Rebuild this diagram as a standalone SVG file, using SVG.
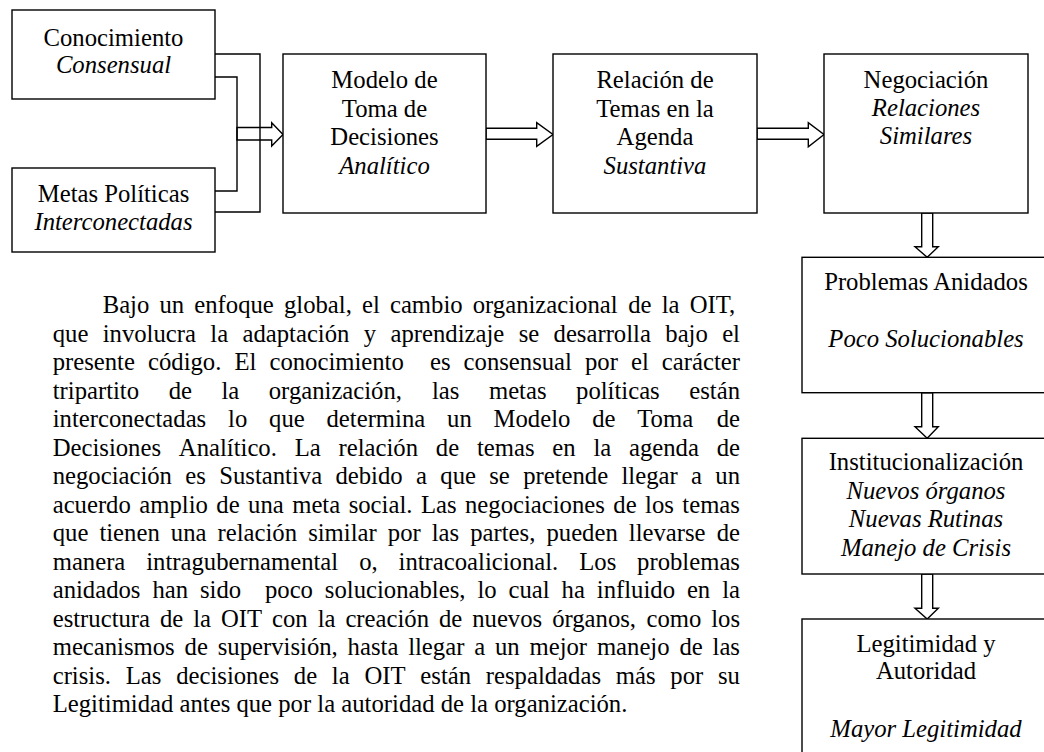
<svg xmlns="http://www.w3.org/2000/svg" width="1044" height="752" viewBox="0 0 1044 752">
<style>
.t{font-family:"Liberation Serif","Times New Roman",serif;font-size:24.7px;fill:#000}
.m{text-anchor:middle}
.i{font-style:italic}
.box{fill:#fff;stroke:#000;stroke-width:1.4}
.ln{fill:none;stroke:#000;stroke-width:1.4}
.ha{fill:#fff;stroke:#000;stroke-width:1.4;stroke-linejoin:miter}
</style>
<rect width="1044" height="752" fill="#fff"/>
<g id="connectors">
<polygon class="ha" points="237,127.5 271.7,127.5 271.7,122.7 283,134.5 271.7,146 271.7,140 237,140"/>
<polyline class="ln" points="215,54 260,54 260,212 215,212"/>
<polyline class="ln" points="215,77 237,77 237,191 215,191"/>
<polygon class="ha" points="486,128.3 536.7,128.3 536.7,122.7 553,134.5 536.7,146.3 536.7,139.3 486,139.3"/>
<polygon class="ha" points="757,128.3 808.3,128.3 808.3,122.7 824,134.5 808.3,146.7 808.3,139.3 757,139.3"/>
<polygon class="ha" points="921.7,213 932.7,213 932.7,246.7 938.3,246.7 927.2,257.3 915,246.7 921.7,246.7"/>
<polygon class="ha" points="921.7,392.7 932.7,392.7 932.7,426.7 938.3,426.7 927.2,438.3 915,426.7 921.7,426.7"/>
<polygon class="ha" points="921.7,574 932.7,574 932.7,608.3 938.3,608.3 927.2,619 915,608.3 921.7,608.3"/>
</g>
<g id="node-conocimiento">
<rect class="box" x="12" y="10" width="203" height="89"/>
<text class="t m" x="113.5" y="45.7">Conocimiento</text>
<text class="t m i" x="113.5" y="72.5">Consensual</text>
</g>
<g id="node-metas">
<rect class="box" x="12" y="168" width="203" height="84"/>
<text class="t m" x="113.5" y="201.7">Metas Políticas</text>
<text class="t m i" x="113.5" y="230">Interconectadas</text>
</g>
<g id="node-modelo">
<rect class="box" x="283" y="54" width="203" height="159"/>
<text class="t m" x="384.5" y="88.3">Modelo de</text>
<text class="t m" x="384.5" y="116.8">Toma de</text>
<text class="t m" x="384.5" y="145.3">Decisiones</text>
<text class="t m i" x="384.5" y="173.8">Analítico</text>
</g>
<g id="node-relacion">
<rect class="box" x="553" y="54" width="204" height="159"/>
<text class="t m" x="655" y="88.3">Relación de</text>
<text class="t m" x="655" y="116.8">Temas en la</text>
<text class="t m" x="655" y="145.3">Agenda</text>
<text class="t m i" x="655" y="173.8">Sustantiva</text>
</g>
<g id="node-negociacion">
<rect class="box" x="824" y="54" width="204" height="159"/>
<text class="t m" x="926" y="88.3">Negociación</text>
<text class="t m i" x="926" y="116.3">Relaciones</text>
<text class="t m i" x="926" y="143.8">Similares</text>
</g>
<g id="node-problemas">
<rect class="box" x="802" y="257.3" width="250" height="135.4"/>
<text class="t m" x="926" y="290">Problemas Anidados</text>
<text class="t m i" x="926" y="347.3">Poco Solucionables</text>
</g>
<g id="node-institucionalizacion">
<rect class="box" x="802" y="438.3" width="250" height="135.7"/>
<text class="t m" x="926" y="470">Institucionalización</text>
<text class="t m i" x="926" y="498.5">Nuevos órganos</text>
<text class="t m i" x="926" y="527">Nuevas Rutinas</text>
<text class="t m i" x="926" y="555.5">Manejo de Crisis</text>
</g>
<g id="node-legitimidad">
<rect class="box" x="802" y="619" width="250" height="160"/>
<text class="t m" x="926" y="651.5">Legitimidad y</text>
<text class="t m" x="926" y="678.5">Autoridad</text>
<text class="t m i" x="926" y="736.7">Mayor Legitimidad</text>
</g>
<g id="paragraph">
<text class="t"><tspan x="102.7" y="313">Bajo</tspan> <tspan x="159.47">un</tspan> <tspan x="194.28">enfoque</tspan> <tspan x="283.95">global,</tspan> <tspan x="361.99">el</tspan> <tspan x="389.93">cambio</tspan> <tspan x="472.76">organizacional</tspan> <tspan x="628.28">de</tspan> <tspan x="661.71">la</tspan> <tspan x="689.65">OIT,</tspan></text>
<text class="t"><tspan x="52.7" y="341.5">que</tspan> <tspan x="102.7">involucra</tspan> <tspan x="210.32">la</tspan> <tspan x="242.48">adaptación</tspan> <tspan x="363.81">y</tspan> <tspan x="390.49">aprendizaje</tspan> <tspan x="518.66">se</tspan> <tspan x="553.57">desarrolla</tspan> <tspan x="665.29">bajo</tspan> <tspan x="722.15">el</tspan></text>
<text class="t"><tspan x="52.7" y="370">presente</tspan> <tspan x="148.03">código.</tspan> <tspan x="234.47">El</tspan> <tspan x="269.46">conocimiento</tspan> <tspan x="430">es</tspan> <tspan x="463.61">consensual</tspan> <tspan x="585.02">por</tspan> <tspan x="630.98">el</tspan> <tspan x="661.84">carácter</tspan></text>
<text class="t"><tspan x="52.7" y="398.5">tripartito</tspan> <tspan x="168.64">de</tspan> <tspan x="221.45">la</tspan> <tspan x="268.77">organización,</tspan> <tspan x="432.01">las</tspan> <tspan x="488.94">metas</tspan> <tspan x="576.06">políticas</tspan> <tspan x="689.26">están</tspan></text>
<text class="t"><tspan x="52.7" y="427">interconectadas</tspan> <tspan x="228.1">lo</tspan> <tspan x="269.09">que</tspan> <tspan x="326.53">determina</tspan> <tspan x="447.08">un</tspan> <tspan x="493.55">Modelo</tspan> <tspan x="592.16">de</tspan> <tspan x="637.25">Toma</tspan> <tspan x="716.65">de</tspan></text>
<text class="t"><tspan x="52.7" y="455.5">Decisiones</tspan> <tspan x="178.84">Analítico.</tspan> <tspan x="294.71">La</tspan> <tspan x="338.53">relación</tspan> <tspan x="435.85">de</tspan> <tspan x="476.93">temas</tspan> <tspan x="552.32">en</tspan> <tspan x="593.4">la</tspan> <tspan x="628.99">agenda</tspan> <tspan x="716.7">de</tspan></text>
<text class="t"><tspan x="52.7" y="484">negociación</tspan> <tspan x="185.36">es</tspan> <tspan x="219.25">Sustantiva</tspan> <tspan x="335.48">debido</tspan> <tspan x="416.02">a</tspan> <tspan x="440.3">que</tspan> <tspan x="489.28">se</tspan> <tspan x="523.17">pretende</tspan> <tspan x="621.52">llegar</tspan> <tspan x="691.07">a</tspan> <tspan x="715.35">un</tspan></text>
<text class="t"><tspan x="52.7" y="512.5">acuerdo</tspan> <tspan x="139.31">amplio</tspan> <tspan x="216.36">de</tspan> <tspan x="248.11">una</tspan> <tspan x="292.21">meta</tspan> <tspan x="348.66">social.</tspan> <tspan x="420.89">Las</tspan> <tspan x="464.99">negociaciones</tspan> <tspan x="613.35">de</tspan> <tspan x="645.1">los</tspan> <tspan x="682.35">temas</tspan></text>
<text class="t"><tspan x="52.7" y="541">que</tspan> <tspan x="99.41">tienen</tspan> <tspan x="170.82">una</tspan> <tspan x="217.53">relación</tspan> <tspan x="308.13">similar</tspan> <tspan x="387.79">por</tspan> <tspan x="431.76">las</tspan> <tspan x="470.24">partes,</tspan> <tspan x="546.44">pueden</tspan> <tspan x="628.81">llevarse</tspan> <tspan x="716.67">de</tspan></text>
<text class="t"><tspan x="52.7" y="569.5">manera</tspan> <tspan x="146.24">intragubernamental</tspan> <tspan x="359.16">o,</tspan> <tspan x="398.54">intracoalicional.</tspan> <tspan x="579.22">Los</tspan> <tspan x="637.12">problemas</tspan></text>
<text class="t"><tspan x="52.7" y="598">anidados</tspan> <tspan x="152.41">han</tspan> <tspan x="199.98">sido</tspan> <tspan x="264.95">poco</tspan> <tspan x="324.87">solucionables,</tspan> <tspan x="477.41">lo</tspan> <tspan x="508.53">cual</tspan> <tspan x="561.58">ha</tspan> <tspan x="596.8">influido</tspan> <tspan x="686.92">en</tspan> <tspan x="722.14">la</tspan></text>
<text class="t"><tspan x="52.7" y="626.5">estructura</tspan> <tspan x="160.01">de</tspan> <tspan x="193.25">la</tspan> <tspan x="221">OIT</tspan> <tspan x="272.07">con</tspan> <tspan x="317.66">la</tspan> <tspan x="345.41">creación</tspan> <tspan x="438.99">de</tspan> <tspan x="472.23">nuevos</tspan> <tspan x="552.13">órganos,</tspan> <tspan x="646.43">como</tspan> <tspan x="711.23">los</tspan></text>
<text class="t"><tspan x="52.7" y="655">mecanismos</tspan> <tspan x="184.62">de</tspan> <tspan x="217.74">supervisión,</tspan> <tspan x="347.61">hasta</tspan> <tspan x="408.17">llegar</tspan> <tspan x="474.21">a</tspan> <tspan x="494.98">un</tspan> <tspan x="529.48">mejor</tspan> <tspan x="596.91">manejo</tspan> <tspan x="679.43">de</tspan> <tspan x="712.55">las</tspan></text>
<text class="t"><tspan x="52.7" y="683.5">crisis.</tspan> <tspan x="125.76">Las</tspan> <tspan x="176.17">decisiones</tspan> <tspan x="293.81">de</tspan> <tspan x="331.87">la</tspan> <tspan x="364.44">OIT</tspan> <tspan x="420.33">están</tspan> <tspan x="485.83">respaldadas</tspan> <tspan x="615.8">más</tspan> <tspan x="670.33">por</tspan> <tspan x="718">su</tspan></text>
<text class="t" x="52.7" y="712">Legitimidad antes que por la autoridad de la organización.</text>
</g>
</svg>
